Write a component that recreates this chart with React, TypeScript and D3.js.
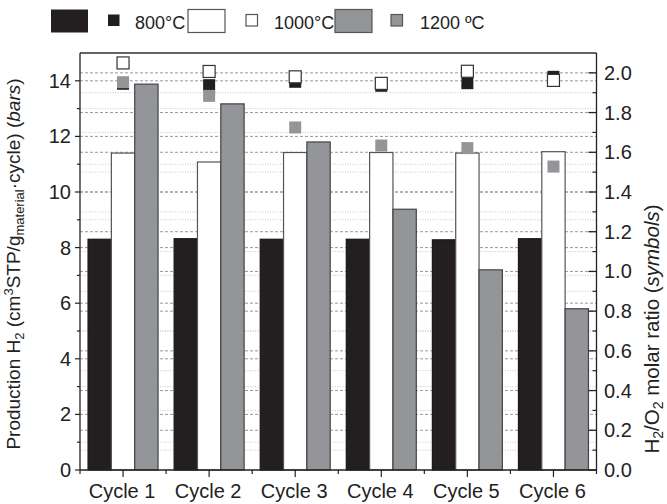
import React from "react";
import * as d3 from "d3";

const cycles = ["Cycle 1", "Cycle 2", "Cycle 3", "Cycle 4", "Cycle 5", "Cycle 6"];
const seriesNames = ["800°C", "1000°C", "1200 ºC"];
const bars800 = [8.3, 8.32, 8.3, 8.3, 8.28, 8.32];
const bars1000 = [11.4, 11.08, 11.42, 11.42, 11.4, 11.45];
const bars1200 = [13.88, 13.17, 11.8, 9.38, 7.2, 5.8];
const ratio800 = [1.945, 1.938, 1.955, 1.935, 1.948, 1.98];
const ratio1000 = [2.05, 2.007, 1.98, 1.947, 2.008, 1.962];
const ratio1200 = [1.953, 1.884, 1.725, 1.634, 1.621, 1.528];
const leftTicks = [0, 2, 4, 6, 8, 10, 12, 14];
const leftMinor = [1, 3, 5, 7, 9, 11, 13, 15];
const rightTicks = [0, 0.2, 0.4, 0.6, 0.8, 1.0, 1.2, 1.4, 1.6, 1.8, 2.0];
const rightMinor = [0.1, 0.3, 0.5, 0.7, 0.9, 1.1, 1.3, 1.5, 1.7, 1.9, 2.1];

const BLACK = "#231f20";
const GRAY = "#939598";
const FONT = "'Liberation Sans', Arial, sans-serif";

export default function App() {
  const L = 80, R = 596.5, T = 53, B = 470;
  const x = d3.scaleBand<string>().domain(cycles).range([L, R]);
  const bw = x.bandwidth();
  const groupW = 70;
  const x1 = d3.scaleBand<string>().domain(seriesNames).range([(bw - groupW) / 2, (bw + groupW) / 2]);
  const yL = d3.scaleLinear().domain([0, 15]).range([B, T]);
  const yR = d3.scaleLinear().domain([0, 2.1]).range([B, T]);

  const barSeries = [
    { name: seriesNames[0], vals: bars800, fill: BLACK, stroke: "#1a1718" },
    { name: seriesNames[1], vals: bars1000, fill: "#ffffff", stroke: "#555" },
    { name: seriesNames[2], vals: bars1200, fill: GRAY, stroke: "#444" },
  ];
  const symSeries = [
    { vals: ratio800, fill: BLACK, stroke: "none" },
    { vals: ratio1000, fill: "#ffffff", stroke: "#333" },
    { vals: ratio1200, fill: GRAY, stroke: "none" },
  ];
  const S = 12;

  const legend = [
    { rx: 51, sx: 108, tx: 135, fill: BLACK, stroke: "none", label: seriesNames[0] },
    { rx: 188, sx: 246, tx: 274, fill: "#ffffff", stroke: "#555", label: seriesNames[1] },
    { rx: 335, sx: 391, tx: 420, fill: GRAY, stroke: "#555", label: seriesNames[2] },
  ];

  return (
    <svg width={667} height={504} style={{ position: "absolute", left: 0, top: 0 }} fontFamily={FONT}>
      <rect width={667} height={504} fill="#fff" />
      {/* grid */}
      {leftMinor.map((v) => (
        <line key={"lm" + v} x1={L} x2={R} y1={yL(v)} y2={yL(v)} stroke="#c8c8c8" strokeWidth={1} strokeDasharray="1,1.5" />
      ))}
      {rightMinor.slice(0, -1).map((v) => (
        <line key={"rm" + v} x1={L} x2={R} y1={yR(v)} y2={yR(v)} stroke="#c8c8c8" strokeWidth={1} strokeDasharray="1,1.5" />
      ))}
      {leftTicks.slice(1).map((v) => (
        <line key={"lg" + v} x1={L} x2={R} y1={yL(v)} y2={yL(v)} stroke="#999" strokeWidth={1} strokeDasharray="3,2" />
      ))}
      {rightTicks.slice(1).map((v) => (
        <line key={"rg" + v} x1={L} x2={R} y1={yR(v)} y2={yR(v)} stroke="#999" strokeWidth={1} strokeDasharray="3,2" />
      ))}
      {/* bars */}
      {barSeries.map((s) =>
        cycles.map((c, i) => (
          <rect
            key={s.name + c}
            x={(x(c) as number) + (x1(s.name) as number)}
            y={yL(s.vals[i])}
            width={x1.bandwidth()}
            height={B - yL(s.vals[i])}
            fill={s.fill}
            stroke={s.stroke}
            strokeWidth={1.2}
          />
        ))
      )}
      {/* symbols */}
      {symSeries.map((s, si) =>
        cycles.map((c, i) => (
          <rect
            key={"s" + si + c}
            x={(x(c) as number) + bw / 2 - S / 2}
            y={yR(s.vals[i]) - S / 2}
            width={S}
            height={S}
            fill={s.fill}
            stroke={s.stroke}
            strokeWidth={1.2}
          />
        ))
      )}
      {/* frame */}
      <line x1={L} x2={R} y1={T} y2={T} stroke="#333" strokeWidth={1.3} />
      <line x1={L} x2={L} y1={T} y2={B} stroke="#222" strokeWidth={1.3} />
      <line x1={R} x2={R} y1={T} y2={B} stroke="#222" strokeWidth={1.3} />
      <line x1={L} x2={R} y1={B} y2={B} stroke="#222" strokeWidth={1.3} />
      {/* left ticks */}
      {leftTicks.map((v) => (
        <g key={"lt" + v}>
          <line x1={L - 5} x2={L} y1={yL(v)} y2={yL(v)} stroke="#222" strokeWidth={1.2} />
          <text x={71} y={yL(v) + 7} textAnchor="end" fontSize={20} fill="#222">{v}</text>
        </g>
      ))}
      {leftMinor.slice(0, -1).map((v) => (
        <line key={"ltm" + v} x1={L - 3} x2={L} y1={yL(v)} y2={yL(v)} stroke="#222" strokeWidth={1.2} />
      ))}
      {/* right ticks */}
      {rightTicks.map((v) => (
        <g key={"rt" + v}>
          <line x1={R - 8} x2={R} y1={yR(v)} y2={yR(v)} stroke="#222" strokeWidth={1.3} />
          <text x={604} y={yR(v) + 7} textAnchor="start" fontSize={20} fill="#222">{d3.format(".1f")(v)}</text>
        </g>
      ))}
      {rightMinor.slice(0, -1).map((v) => (
        <line key={"rtm" + v} x1={R - 4} x2={R} y1={yR(v)} y2={yR(v)} stroke="#222" strokeWidth={1.2} />
      ))}
      {/* bottom ticks */}
      {cycles.map((c) => (
        <g key={"bt" + c}>
          <line x1={(x(c) as number) + bw / 2} x2={(x(c) as number) + bw / 2} y1={B} y2={B + 7} stroke="#222" strokeWidth={1.2} />
          <line x1={(x(c) as number) + bw} x2={(x(c) as number) + bw} y1={B} y2={B + 4} stroke="#222" strokeWidth={1.2} />
          <text x={(x(c) as number) + bw / 2 - 1} y={498} textAnchor="middle" fontSize={20} fill="#222">{c}</text>
        </g>
      ))}
      <line x1={L} x2={L} y1={B} y2={B + 4} stroke="#222" strokeWidth={1.2} />
      {/* left title */}
      <text transform="translate(20,264) rotate(-90)" textAnchor="middle" fontSize={19} fill="#222">
        Production H<tspan fontSize={13} dy={4}>2</tspan>
        <tspan dy={-4}> (cm</tspan>
        <tspan fontSize={13} dy={-7}>3</tspan>
        <tspan dy={7}>STP/g</tspan>
        <tspan fontSize={13} dy={4}>material</tspan>
        <tspan dy={-4}>·cycle) (</tspan>
        <tspan fontStyle="italic">bars</tspan>)
      </text>
      {/* right title */}
      <text transform="translate(659,329) rotate(-90)" textAnchor="middle" fontSize={20.5} fill="#222">
        H<tspan fontSize={14} dy={4}>2</tspan>
        <tspan dy={-4}>/O</tspan>
        <tspan fontSize={14} dy={4}>2</tspan>
        <tspan dy={-4}> molar ratio (</tspan>
        <tspan fontStyle="italic">symbols</tspan>)
      </text>
      {/* legend */}
      {legend.map((l) => (
        <g key={l.label}>
          <rect x={l.rx} y={9.5} width={37} height={23} fill={l.fill} stroke={l.stroke} strokeWidth={1.2} />
          <rect x={l.sx} y={14.5} width={11.5} height={11.5} fill={l.fill} stroke={l.stroke} strokeWidth={1.2} />
          <text x={l.tx} y={29} fontSize={18} fill="#222">{l.label}</text>
        </g>
      ))}
    </svg>
  );
}
